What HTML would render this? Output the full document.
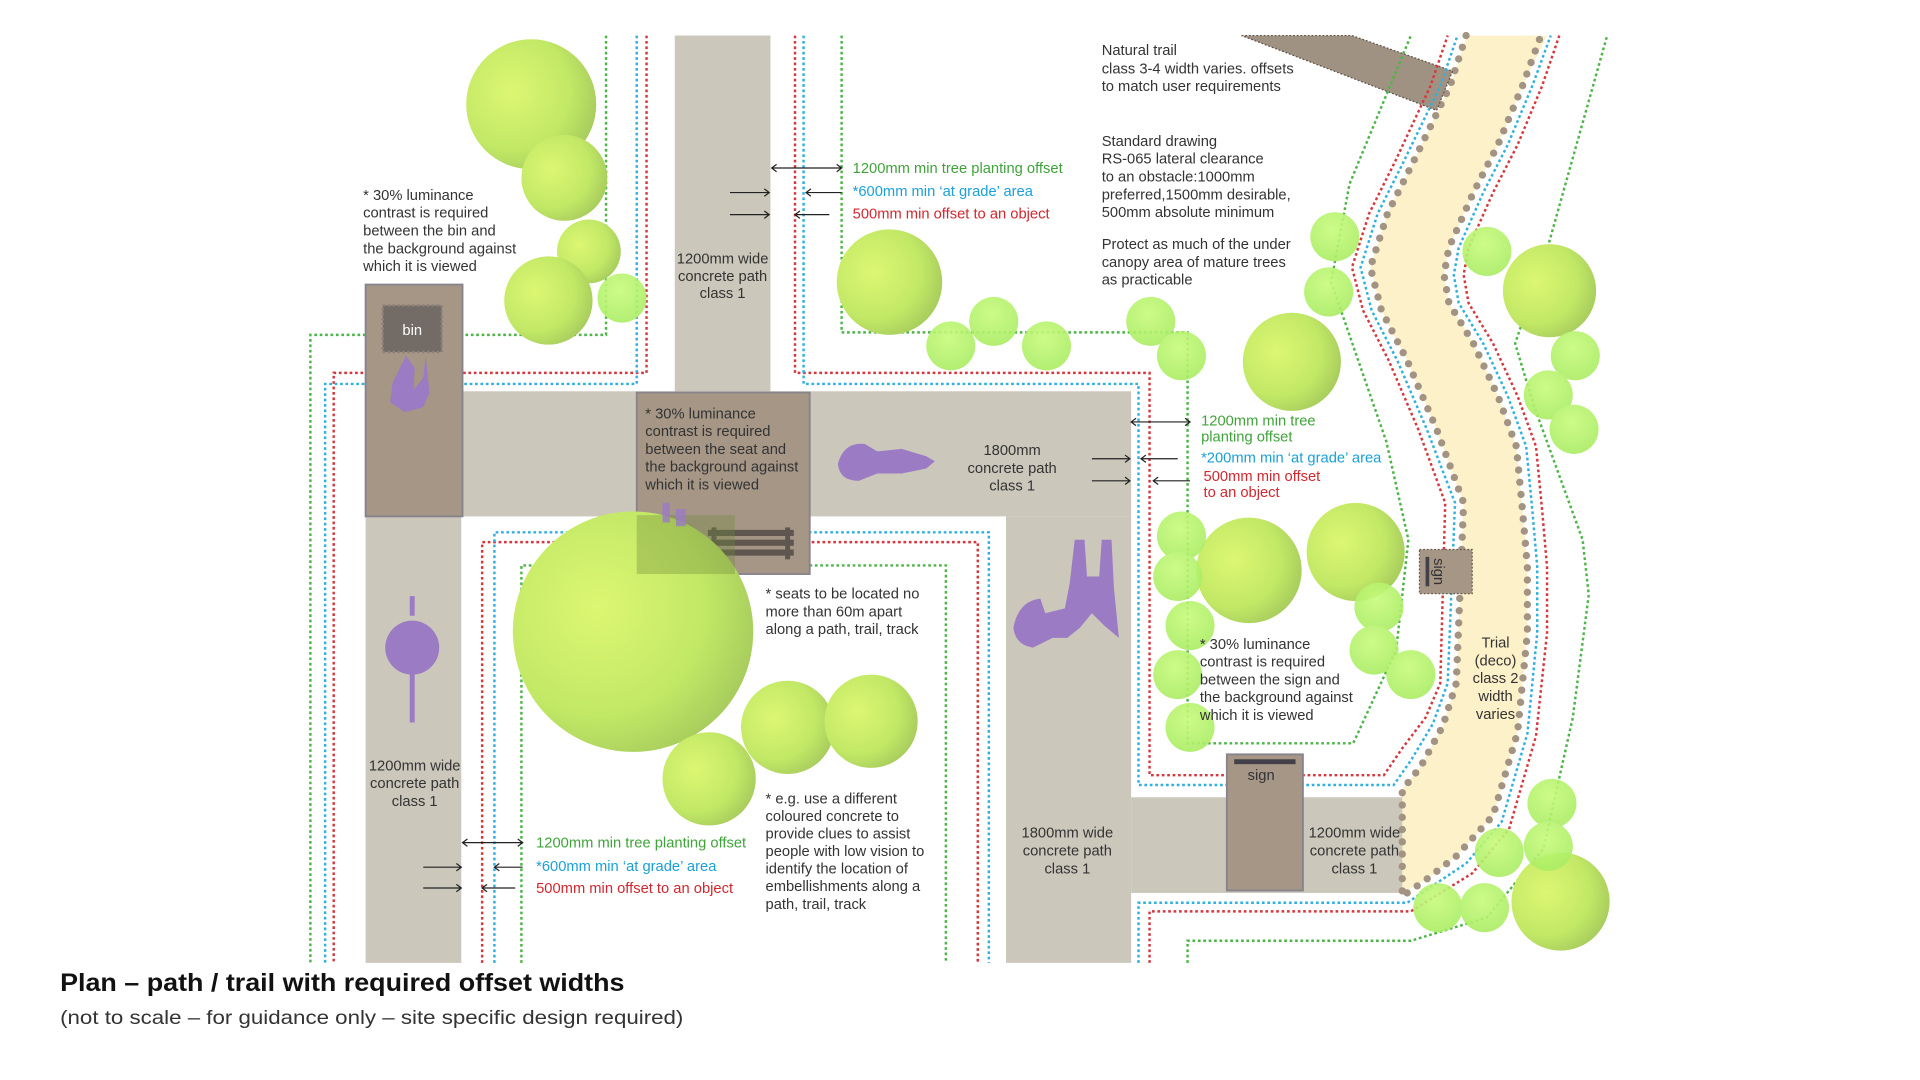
<!DOCTYPE html>
<html><head><meta charset="utf-8"><style>html,body{margin:0;padding:0;background:#fff;}svg{display:block}</style></head>
<body>
<svg width="1920" height="1080" viewBox="0 0 1565 880.5" preserveAspectRatio="none" xmlns="http://www.w3.org/2000/svg" font-family="Liberation Sans, Arial, sans-serif">
<defs>
<radialGradient id="tg" cx="0.35" cy="0.4" r="0.75"><stop offset="0" stop-color="#dcf772"/><stop offset="0.6" stop-color="#c2e866"/><stop offset="1" stop-color="#9fc45a"/></radialGradient>
<radialGradient id="tl" cx="0.45" cy="0.35" r="0.7"><stop offset="0" stop-color="#c8fb7c"/><stop offset="1" stop-color="#a8ec62"/></radialGradient>
</defs>
<rect width="1565" height="880.5" fill="#fff"/>
<!-- paths -->
<g fill="#cbc7bb">
<rect x="550" y="29" width="78" height="292"/>
<rect x="377" y="319" width="545" height="102"/>
<rect x="298" y="421" width="78" height="364"/>
<rect x="820" y="421" width="102" height="364"/>
<rect x="922" y="650" width="226" height="78"/>
</g>
<!-- trail -->
<path d="M1196,29 L1182,70 L1152,132 L1131,174 L1117,218 L1126,253 L1147,294 L1171,350 L1193,410 L1187,557 L1176,592 L1158,625 L1143,644 L1143,728 L1164,716 L1187,698 L1217,665 L1237,597 L1245,516 L1245,462 L1241,416 L1236,364 L1221,323 L1201,280 L1181,247 L1177,224 L1181,202 L1201,157 L1221,118 L1241,70 L1261,29 Z" fill="#fcf1c9"/>
<g fill="none" stroke="#a39383" stroke-width="6" stroke-linecap="round" stroke-dasharray="0 10">
<polyline points="1195,29 1182,70 1152,132 1131,174 1117,218 1126,253 1147,294 1171,350 1193,410 1187,557 1176,592 1158,625 1143,644 1143,728"/>
<polyline points="1147,728 1164,716 1187,698 1217,665 1237,597 1245,516 1245,462 1241,416 1236,364 1221,323 1201,280 1181,247 1177,224 1181,202 1201,157 1221,118 1241,70 1256,29"/>
</g>
<!-- natural trail -->
<polygon points="1012,29 1102,29 1184,58 1171,90" fill="#a09283" stroke="#5f5248" stroke-width="1" stroke-dasharray="1.5 1.5"/>
<!-- dotted offset lines -->
<g fill="none" stroke-width="2" stroke-dasharray="2.2 2.2">
<g stroke="#4db548">
<polyline points="494,29 494,273 253,273 253,785"/>
<polyline points="686,29 686,271 968,271 968,606 1103,606 1138,530 1148,440 1130,360 1085,230 1100,150 1150,29"/>
<polyline points="425,785 425,461 771,461 771,785"/>
<polyline points="968,785 968,767 1150,767 1212,748 1258,692 1282,585 1295,485 1290,440 1250,330 1235,280 1262,200 1310,29"/>
</g>
<g stroke="#d6373f">
<polyline points="527,29 527,304 272,304 272,785"/>
<polyline points="648,29 648,304 937,304 937,632 1128,632 1143,610 1162,585 1174,557 1178,410 1156,350 1132,294 1111,253 1102,218 1116,174 1137,132 1166,70 1180,29"/>
<polyline points="393,785 393,442 797,442 797,785"/>
<polyline points="937,785 937,743 1150,743 1200,712 1230,676 1252,600 1261,516 1261,462 1257,416 1252,364 1237,323 1217,280 1197,247 1193,224 1197,202 1217,157 1237,118 1257,70 1271,29"/>
</g>
<g stroke="#2fb0e0">
<polyline points="519,29 519,313 265,313 265,785"/>
<polyline points="655,29 655,313 928,313 928,640 1136,640 1150,620 1168,590 1180,557 1186,410 1163,350 1139,294 1118,253 1109,218 1123,174 1144,132 1174,70 1188,29"/>
<polyline points="403,785 403,434 806,434 806,785"/>
<polyline points="928,785 928,736 1147,736 1195,704 1224,670 1245,598 1253,516 1253,462 1249,416 1244,364 1229,323 1209,280 1189,247 1185,224 1189,202 1209,157 1229,118 1249,70 1264,29"/>
</g>
</g>
<!-- boxes -->
<rect x="298" y="232" width="79" height="189" fill="#a59686" stroke="#86838c" stroke-width="1.5"/>
<rect x="312" y="249" width="48" height="38" fill="#736b66" stroke="#8c8079" stroke-width="2" stroke-dasharray="2 2"/>
<text x="336" y="273" font-size="12" fill="#fff" text-anchor="middle">bin</text>
<rect x="519" y="320" width="141" height="148" fill="#a59686" stroke="#86838c" stroke-width="1.5"/>
<g fill="#5f5650"><rect x="577" y="432" width="70" height="5"/><rect x="577" y="440" width="70" height="5"/><rect x="577" y="448" width="70" height="5"/><rect x="580" y="430" width="4" height="26"/><rect x="640" y="430" width="4" height="26"/></g>
<rect x="1000" y="615" width="62" height="111" fill="#a59686" stroke="#86838c" stroke-width="1.5"/>
<rect x="1006" y="619" width="50" height="4" fill="#44404a"/>
<text x="1028" y="636" font-size="12" fill="#333" text-anchor="middle">sign</text>
<rect x="1157" y="448" width="43" height="36" fill="#a59686" stroke="#6a5a4d" stroke-width="1" stroke-dasharray="1.5 1.5"/>
<rect x="1162" y="454" width="3" height="24" fill="#44404a"/>
<text transform="translate(1169,466) rotate(90)" font-size="12" fill="#333" text-anchor="middle">sign</text>
<!-- trees -->
<g fill="url(#tg)">
<circle cx="433" cy="85" r="53"/><circle cx="460" cy="145" r="35"/><circle cx="480" cy="205" r="26"/><circle cx="447" cy="245" r="36"/>
<circle cx="725" cy="230" r="43"/><circle cx="1053" cy="295" r="40"/><circle cx="1263" cy="237" r="38"/>
<circle cx="516" cy="515" r="98"/><circle cx="642" cy="593" r="38"/><circle cx="710" cy="588" r="38"/><circle cx="578" cy="635" r="38"/>
<circle cx="1018" cy="465" r="43"/><circle cx="1105" cy="450" r="40"/><circle cx="1272" cy="735" r="40"/>
</g>
<g fill="url(#tl)" opacity="0.9">
<circle cx="507" cy="243" r="20"/><circle cx="775" cy="282" r="20"/><circle cx="810" cy="262" r="20"/><circle cx="853" cy="282" r="20"/><circle cx="938" cy="262" r="20"/><circle cx="963" cy="290" r="20"/>
<circle cx="1088" cy="193" r="20"/><circle cx="1083" cy="238" r="20"/><circle cx="1212" cy="205" r="20"/><circle cx="1284" cy="290" r="20"/><circle cx="1262" cy="322" r="20"/><circle cx="1283" cy="350" r="20"/>
<circle cx="963" cy="437" r="20"/><circle cx="960" cy="470" r="20"/><circle cx="970" cy="510" r="20"/><circle cx="960" cy="550" r="20"/><circle cx="970" cy="593" r="20"/>
<circle cx="1124" cy="495" r="20"/><circle cx="1120" cy="530" r="20"/><circle cx="1150" cy="550" r="20"/>
<circle cx="1265" cy="655" r="20"/><circle cx="1222" cy="695" r="20"/><circle cx="1262" cy="690" r="20"/><circle cx="1172" cy="740" r="20"/><circle cx="1210" cy="740" r="20"/>
</g>
<rect x="519" y="420" width="80" height="48" fill="#6f8a3a" opacity="0.35"/>
<!-- purple figures -->
<g fill="#9b7bc4">
<path d="M331,290 L338,300 L337,318 L345,308 L347,290 L350,320 L345,332 L330,336 L318,328 L320,312 Z"/>
<path d="M683,378 Q688,360 705,362 L715,368 L735,366 L755,372 L762,376 L755,382 L735,386 L715,386 L700,392 Q684,392 683,378 Z"/>
<rect x="334" y="486" width="4" height="16"/><ellipse cx="336" cy="528" rx="22" ry="22"/><rect x="334" y="545" width="4" height="44"/>
<path d="M826,512 Q830,490 848,488 L852,500 L868,496 L872,475 L876,440 L884,440 L886,470 L896,470 L898,440 L906,440 L908,480 L912,520 L900,510 L890,500 L880,512 L870,520 L858,520 L842,528 Q828,526 826,512 Z"/>
<rect x="540" y="410" width="6" height="16" opacity="0.8"/><rect x="551" y="415" width="8" height="14" opacity="0.8"/>
</g>
<!-- arrows -->
<g stroke="#222" stroke-width="1" fill="none">
<path d="M629,137 H686 M633,134 L629,137 L633,140 M682,134 L686,137 L682,140"/>
<path d="M595,157 H627 M623,154 L627,157 L623,160 M595,175 H627 M623,172 L627,175 L623,178"/>
<path d="M657,157 H686 M661,154 L657,157 L661,160 M648,175 H676 M652,172 L648,175 L652,178"/>
<path d="M922,344 H970 M926,341 L922,344 L926,347 M966,341 L970,344 L966,347"/>
<path d="M890,374 H921 M917,371 L921,374 L917,377 M890,392 H921 M917,389 L921,392 L917,395"/>
<path d="M930,374 H960 M934,371 L930,374 L934,377 M940,392 H970 M944,389 L940,392 L944,395"/>
<path d="M377,687 H426 M381,684 L377,687 L381,690 M422,684 L426,687 L422,690"/>
<path d="M345,707 H376 M372,704 L376,707 L372,710 M345,724 H376 M372,721 L376,724 L372,727"/>
<path d="M403,707 H426 M407,704 L403,707 L407,710 M393,724 H420 M397,721 L393,724 L397,727"/>
</g>
<!-- texts -->
<g font-size="12" fill="#333">
<text x="296" y="163">* 30% luminance</text><text x="296" y="177.5">contrast is required</text><text x="296" y="192">between the bin and</text><text x="296" y="206.5">the background against</text><text x="296" y="221">which it is viewed</text>
<g text-anchor="middle"><text x="589" y="215">1200mm wide</text><text x="589" y="229">concrete path</text><text x="589" y="243">class 1</text>
<text x="825" y="371">1800mm</text><text x="825" y="385.5">concrete path</text><text x="825" y="400">class 1</text>
<text x="338" y="628">1200mm wide</text><text x="338" y="642.5">concrete path</text><text x="338" y="657">class 1</text>
<text x="870" y="683">1800mm wide</text><text x="870" y="697.5">concrete path</text><text x="870" y="712">class 1</text>
<text x="1104" y="683">1200mm wide</text><text x="1104" y="697.5">concrete path</text><text x="1104" y="712">class 1</text>
<text x="1219" y="528">Trial</text><text x="1219" y="542.5">(deco)</text><text x="1219" y="557">class 2</text><text x="1219" y="571.5">width</text><text x="1219" y="586">varies</text></g>
<text x="898" y="45">Natural trail</text><text x="898" y="60">class 3-4 width varies. offsets</text><text x="898" y="74">to match user requirements</text>
<text x="898" y="119">Standard drawing</text><text x="898" y="133.5">RS-065 lateral clearance</text><text x="898" y="148">to an obstacle:1000mm</text><text x="898" y="162.5">preferred,1500mm desirable,</text><text x="898" y="177">500mm absolute minimum</text>
<text x="898" y="203">Protect as much of the under</text><text x="898" y="217.5">canopy area of mature trees</text><text x="898" y="232">as practicable</text>
<text x="526" y="341">* 30% luminance</text><text x="526" y="355.5">contrast is required</text><text x="526" y="370">between the seat and</text><text x="526" y="384.5">the background against</text><text x="526" y="399">which it is viewed</text>
<text x="624" y="488">* seats to be located no</text><text x="624" y="502.5">more than 60m apart</text><text x="624" y="517">along a path, trail, track</text>
<text x="624" y="655">* e.g. use a different</text><text x="624" y="669.3">coloured concrete to</text><text x="624" y="683.6">provide clues to assist</text><text x="624" y="698">people with low vision to</text><text x="624" y="712.3">identify the location of</text><text x="624" y="726.6">embellishments along a</text><text x="624" y="741">path, trail, track</text>
<text x="978" y="529">* 30% luminance</text><text x="978" y="543.5">contrast is required</text><text x="978" y="558">between the sign and</text><text x="978" y="572.5">the background against</text><text x="978" y="587">which it is viewed</text>
</g>
<g font-size="12">
<text x="695" y="141" fill="#3fa33a">1200mm min tree planting offset</text>
<text x="695" y="160" fill="#1aa0d8">*600mm min ‘at grade’ area</text>
<text x="695" y="178" fill="#d3262e">500mm min offset to an object</text>
<text x="979" y="347" fill="#3fa33a">1200mm min tree</text><text x="979" y="360" fill="#3fa33a">planting offset</text>
<text x="979" y="377" fill="#1aa0d8">*200mm min ‘at grade’ area</text>
<text x="981" y="392" fill="#d3262e">500mm min offset</text><text x="981" y="405" fill="#d3262e">to an object</text>
<text x="437" y="691" fill="#3fa33a">1200mm min tree planting offset</text>
<text x="437" y="710" fill="#1aa0d8">*600mm min ‘at grade’ area</text>
<text x="437" y="728" fill="#d3262e">500mm min offset to an object</text>
</g>
<text x="49" y="808" font-size="20" font-weight="bold" fill="#111" textLength="460" lengthAdjust="spacingAndGlyphs">Plan – path / trail with required offset widths</text>
<text x="49" y="835" font-size="16" fill="#333" textLength="508" lengthAdjust="spacingAndGlyphs">(not to scale – for guidance only – site specific design required)</text>
</svg>
</body></html>
